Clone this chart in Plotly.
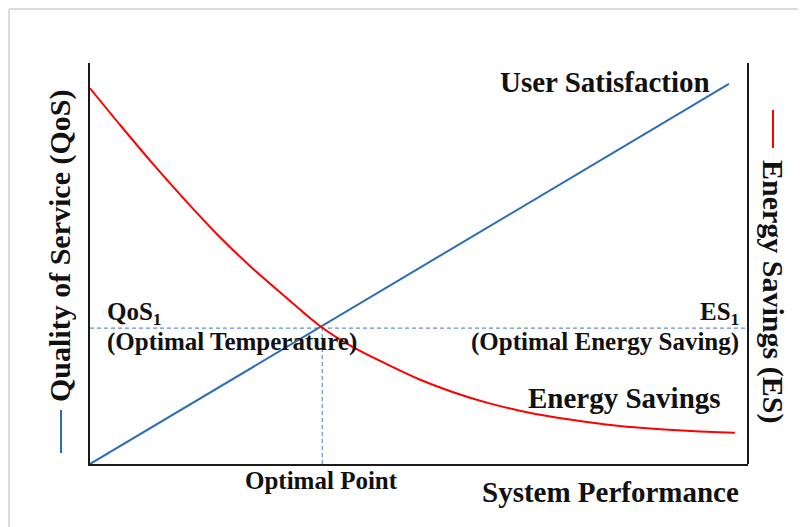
import plotly.graph_objects as go

# ---- data ----
blue_x = [0, 97.1]
blue_y = [0, 94.8]

red_x = [0, 4.8, 9.8, 14.9, 19.3, 24.3, 29.4, 35.2, 39.5, 45.1, 50.2, 55.2,
         60.3, 65.3, 70.4, 75.5, 80.5, 85.6, 90.7, 98.0]
red_y = [93.7, 84.1, 74.4, 65.0, 57.3, 49.4, 42.1, 34.1, 29.6, 24.9, 21.0, 17.9,
         15.3, 13.3, 11.7, 10.5, 9.5, 8.8, 8.3, 7.8]

opt_x = 35.3
opt_y = 33.9

# the page body has an 8px margin; screen pixel positions are converted below
OFF = 8
W, H = 806 - OFF, 527 - OFF
L, R, T, B = 90, 748, 63, 464  # plot area in screen pixels


def px(x):
    return (x - L) / (R - L)


def py(y):
    return (B - y) / (B - T)


FONT = "Liberation Serif, Times New Roman, serif"
BLUE = "#2e6db4"
RED = "#ff0000"
DASH = "#5a93d8"

fig = go.Figure()
fig.add_trace(go.Scatter(x=[0, 100], y=[opt_y, opt_y], mode="lines",
                         line=dict(color=DASH, width=1.2, dash="4px,3px"),
                         hoverinfo="skip"))
fig.add_trace(go.Scatter(x=[opt_x, opt_x], y=[0, opt_y], mode="lines",
                         line=dict(color=DASH, width=1.2, dash="4px,3px"),
                         hoverinfo="skip"))
fig.add_trace(go.Scatter(x=blue_x, y=blue_y, mode="lines",
                         line=dict(color=BLUE, width=2)))
fig.add_trace(go.Scatter(x=red_x, y=red_y, mode="lines",
                         line=dict(color=RED, width=2, shape="spline", smoothing=1.0)))

shapes = [
    # right axis line
    dict(type="line", xref="paper", yref="paper", x0=1, x1=1, y0=0, y1=1,
         line=dict(color="#1a1a1a", width=2)),
    # legend dashes next to axis titles
    dict(type="line", xref="paper", yref="paper", x0=px(61), x1=px(61), y0=py(410), y1=py(453),
         line=dict(color=BLUE, width=2)),
    dict(type="line", xref="paper", yref="paper", x0=px(773), x1=px(773), y0=py(110), y1=py(148),
         line=dict(color=RED, width=2)),
    # light gray frame (top and left)
    dict(type="line", xref="paper", yref="paper", x0=px(OFF + 1), x1=px(806), y0=py(OFF + 1), y1=py(OFF + 1),
         line=dict(color="#dcdcdc", width=2)),
    dict(type="line", xref="paper", yref="paper", x0=px(OFF + 1), x1=px(OFF + 1), y0=py(OFF + 1), y1=py(527),
         line=dict(color="#dcdcdc", width=2)),
]


def ann(text, x, y, size, xanchor="center", yanchor="middle", angle=0):
    return dict(text=f"<b>{text}</b>", xref="paper", yref="paper", x=px(x), y=py(y),
                xanchor=xanchor, yanchor=yanchor, showarrow=False, textangle=angle,
                font=dict(family=FONT, size=size, color="#111111"))


annotations = [
    ann("User Satisfaction", 712, 82, 29, xanchor="right"),
    ann("QoS<sub>1</sub>", 105, 313, 25, xanchor="left"),
    ann("(Optimal Temperature)", 105, 342, 25, xanchor="left"),
    ann("ES<sub>1</sub>", 741, 313, 25, xanchor="right"),
    ann("(Optimal Energy Saving)", 741, 342, 25, xanchor="right"),
    ann("Energy Savings", 723, 398, 29, xanchor="right"),
    ann("Optimal Point", 321, 480, 25),
    ann("System Performance", 741, 492, 29, xanchor="right"),
    ann("Quality of Service (QoS)", 60, 246, 30, angle=-90),
    ann("Energy Savings (ES)", 773, 291, 30, angle=90),
]

fig.update_layout(
    width=W, height=H,
    margin=dict(l=L - OFF, r=W - (R - OFF), t=T - OFF, b=H - (B - OFF), pad=0),
    paper_bgcolor="white", plot_bgcolor="white",
    showlegend=False,
    shapes=shapes,
    annotations=annotations,
    xaxis=dict(range=[0, 100], showgrid=False, zeroline=False, showticklabels=False,
               ticks="", showline=True, linecolor="#1a1a1a", linewidth=2, fixedrange=True),
    yaxis=dict(range=[0, 100], showgrid=False, zeroline=False, showticklabels=False,
               ticks="", showline=True, linecolor="#1a1a1a", linewidth=2, fixedrange=True),
)

fig.write_html("out.html", config={"displayModeBar": False})
